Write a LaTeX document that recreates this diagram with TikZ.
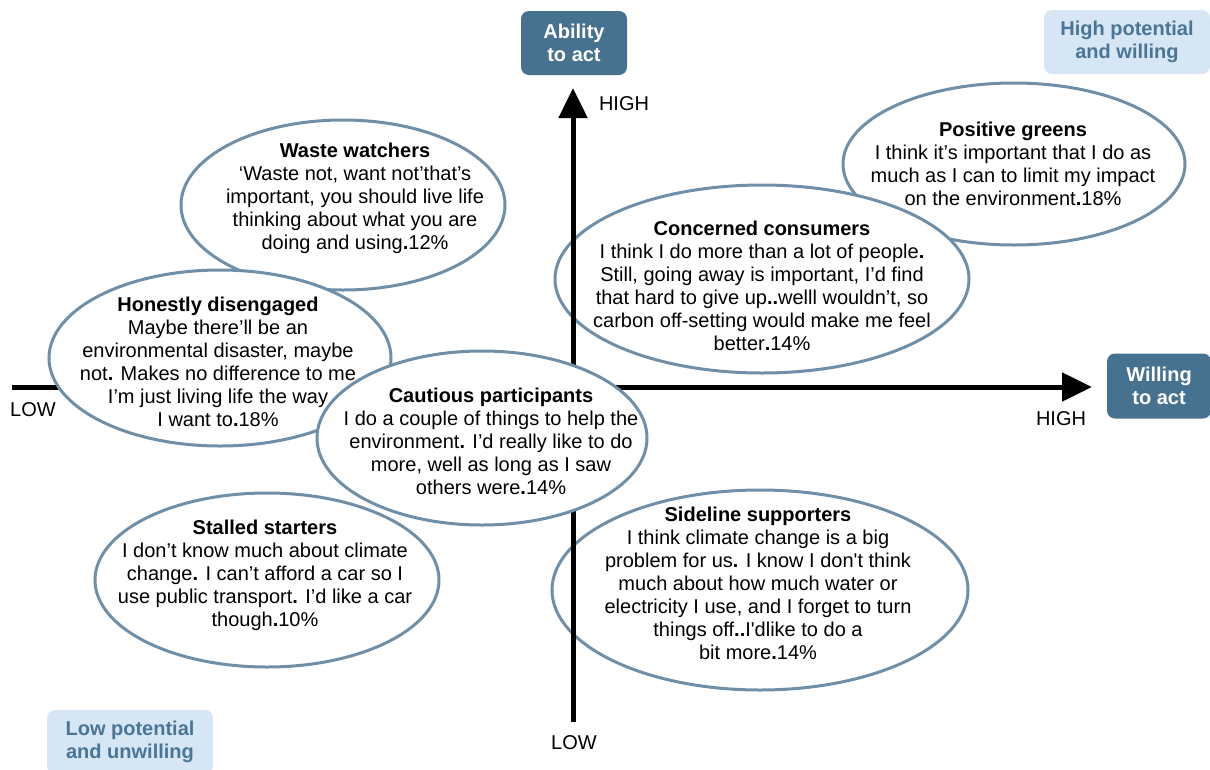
\documentclass[tikz,border=0pt]{standalone}
\usepackage{fontspec}
\setmainfont{Liberation Sans}[Ligatures=TeXOff]
\usetikzlibrary{shapes.geometric,arrows.meta}
\definecolor{boxblue}{HTML}{46718F}
\definecolor{paleblue}{HTML}{D6E6F4}
\definecolor{paletext}{HTML}{4A7596}
\definecolor{rimblue}{HTML}{6F8FA9}
\newcommand{\bdot}{\textbf{.}}
\begin{document}
\begin{tikzpicture}[x=1pt,y=-1pt,
    every node/.style={font=\fontsize{20}{23}\selectfont},
    bubble/.style={ellipse,draw=rimblue,line width=3pt,fill=white,inner sep=0pt},
    quote/.style={align=center,inner sep=0pt},
    tag/.style={rounded corners=8pt,fill=boxblue,text=white,align=center,inner sep=0pt,
      font=\fontsize{20}{23}\selectfont\bfseries},
    zone/.style={rounded corners=8pt,fill=paleblue,text=paletext,align=center,inner sep=0pt,
      font=\fontsize{20}{23}\selectfont\bfseries},
    axis/.style={line width=5pt,-{Triangle[length=30pt,width=28pt]}}]
  \useasboundingbox (0,0) rectangle (1210,769);

  % corner boxes
  \node[tag,minimum width=106,minimum height=64] (ability) at (574,43) {Ability\\to act};
  \node[tag,minimum width=104,minimum height=65] (willing) at (1159,386) {Willing\\to act};
  \node[zone,minimum width=166,minimum height=64] (highzone) at (1127,42) {High potential\\and willing};
  \node[zone,minimum width=166,minimum height=64] (lowzone) at (130,742) {Low potential\\and unwilling};

  % right hand bubbles
  \node[bubble,minimum width=342,minimum height=162] (greens) at (1014,164) {};
  \node[bubble,minimum width=414,minimum height=188] (concerned) at (762,279) {};
  \node[bubble,minimum width=416,minimum height=200] (sideline) at (760,590) {};

  % axes
  \coordinate (vlow) at (573,722);
  \coordinate (vhigh) at (573,88);
  \coordinate (hlow) at (12,387);
  \coordinate (hhigh) at (1092,387);
  \draw[axis] (vlow) -- (vhigh);
  \draw[axis] (hlow) -- (hhigh);
  \node (vhightext) at (624,104) {HIGH};
  \node (vlowtext) at (574,743) {LOW};
  \node (hhightext) at (1061,419) {HIGH};
  \node (hlowtext) at (33,410) {LOW};

  % left hand bubbles
  \node[bubble,minimum width=324,minimum height=170] (waste) at (343,205) {};
  \node[bubble,minimum width=342,minimum height=176] (honest) at (220,358) {};
  \node[bubble,minimum width=344,minimum height=174] (stalled) at (267,580) {};
  \node[bubble,minimum width=330,minimum height=174] (cautious) at (482,438) {};

  % quotes
  \node[quote] (greens-txt) at (1013,164) {\textbf{Positive greens}\\
    I think it’s important that I do as\\much as I can to limit my impact\\
    on the environment\bdot 18\%};
  \node[quote] (concerned-txt) at (762,286) {\textbf{Concerned consumers}\\
    I think I do more than a lot of people\bdot\\
    Still, going away is important, I’d find\\
    that hard to give up\bdot\bdot welll wouldn’t, so\\
    carbon off-setting would make me feel\\better\bdot 14\%};
  \node[quote] (sideline-txt) at (758,583) {\textbf{Sideline supporters}\\
    I think climate change is a big\\problem for us\bdot{} I know I don't think\\
    much about how much water or\\electricity I use, and I forget to turn\\
    things off\bdot\bdot I'dlike to do a\\bit more\bdot 14\%};
  \node[quote] (waste-txt) at (355,198) {\textbf{Waste watchers}\\
    ‘Waste not, want not’that’s\\important, you should live life\\
    thinking about what you are\\doing and using\bdot 12\%};
  \node[quote] (honest-txt) at (218,362) {\textbf{Honestly disengaged}\\
    Maybe there’ll be an\\environmental disaster, maybe\\
    not\bdot{} Makes no difference to me\\I’m just living life the way\\
    I want to\bdot 18\%};
  \node[quote] (stalled-txt) at (265,575) {\textbf{Stalled starters}\\
    I don’t know much about climate\\change\bdot{} I can’t afford a car so I\\
    use public transport\bdot{} I’d like a car\\though\bdot 10\%};
  \node[quote] (cautious-txt) at (491,441) {\textbf{Cautious participants}\\
    I do a couple of things to help the\\environment\bdot{} I’d really like to do\\
    more, well as long as I saw\\others were\bdot 14\%};
\end{tikzpicture}
\end{document}
